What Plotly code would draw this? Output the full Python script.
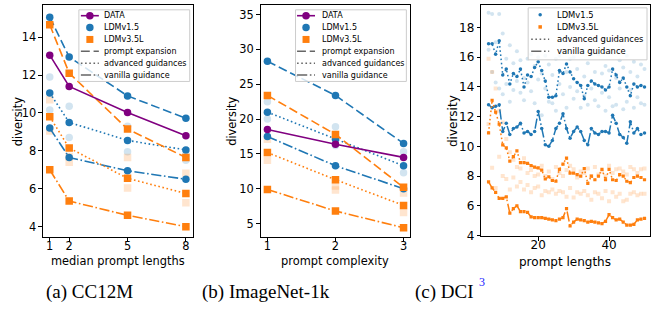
import plotly.graph_objects as go

W, H = 651, 320
BLUE = '#1f77b4'
ORANGE = '#ff7f0e'
PURPLE = '#800080'
GRAY = '#666666'

# ---------------- data: (a) CC12M ----------------
a_x = [1, 2, 5, 8]
a_data = [13.05, 11.4, 10.02, 8.8]
a_v15_pe = [15.05, 12.95, 10.9, 9.72]
a_v15_adv = [11.05, 9.5, 8.55, 8.05]
a_v15_van = [9.2, 7.65, 6.95, 6.5]
a_v35_pe = [14.65, 12.1, 9.15, 7.65]
a_v35_adv = [9.8, 8.15, 6.55, 5.75]
a_v35_van = [7.0, 5.35, 4.6, 4.0]
a_v15_other1 = [11.9, 10.35, 9.3, 7.5]
a_v15_other2 = [10.15, 8.7, 7.95, 7.8]
a_v35_other1 = [10.7, 7.7, 7.65, 6.82]
a_v35_other2 = [9.05, 7.4, 6.04, 5.26]
a_xticks = [1, 2, 5, 8]
a_yticks = [4, 6, 8, 10, 12, 14]

# ---------------- data: (b) ImageNet-1k ----------------
b_x = [1, 2, 3]
b_data = [18.5, 16.4, 14.5]
b_v15_pe = [28.3, 23.4, 16.5]
b_v15_adv = [21.0, 17.1, 13.3]
b_v15_van = [17.5, 13.3, 10.0]
b_v35_pe = [23.4, 17.8, 10.2]
b_v35_adv = [15.2, 11.3, 7.6]
b_v35_van = [9.9, 6.8, 4.4]
b_v15_other1 = [22.5, 18.9, 15.3]
b_v15_other2 = [20.0, 16.2, 12.3]
b_v35_other1 = [17.1, 10.4, 9.4]
b_v35_other2 = [14.1, 9.8, 6.6]
b_xticks = [1, 2, 3]
b_yticks = [5, 10, 15, 20, 25, 30, 35]

# ---------------- data: (c) DCI ----------------
c_x = list(range(6, 51))
c_v15_adv = [16.9, 16.9, 16.2, 17.1, 14.8, 15.2, 14.2, 14.9, 14.7, 15.2,
             14.0, 14.8, 14.7, 15.3, 15.7, 15.1, 14.4, 13.3, 13.3, 13.4,
             15.1, 14.9, 15.55, 15.0, 14.55, 14.3, 14.1, 13.2, 14.1, 14.4,
             14.2, 14.1, 14.0, 13.8, 14.0, 15.2, 14.8, 14.3, 14.6, 14.0,
             13.4, 14.2, 14.0, 14.1, 14.0]
c_v15_van = [12.8, 12.6, 12.7, 12.8, 11.0, 11.55, 10.8, 11.2, 11.3, 11.55,
             10.9, 11.0, 10.8, 11.0, 12.35, 11.2, 10.1, 10.0, 10.4, 11.2,
             11.55, 12.2, 11.2, 10.55, 11.0, 11.3, 11.0, 10.4, 10.1, 11.2,
             10.9, 10.8, 11.0, 11.0, 10.9, 12.1, 11.55, 10.8, 10.6, 10.2,
             11.65, 10.9, 11.2, 10.8, 10.9]
c_v35_adv = [10.9, 13.1, 12.3, 11.5, 10.1, 9.9, 9.0, 9.3, 9.7, 8.9,
             8.9, 8.85, 8.7, 8.6, 8.55, 8.4, 7.8, 7.95, 7.7, 7.65,
             8.45, 8.8, 9.2, 8.2, 8.2, 8.1, 8.0, 8.5, 7.5, 8.0,
             7.75, 8.0, 8.45, 7.75, 8.45, 7.75, 7.7, 8.1, 8.0, 7.65,
             7.55, 7.9, 8.0, 7.9, 7.75]
c_v35_van = [7.6, 7.2, 6.9, 6.5, 6.5, 6.6, 5.5, 5.8, 6.0, 5.6,
             5.6, 5.55, 5.25, 5.2, 5.2, 5.2, 5.15, 5.1, 5.05, 5.0,
             5.1, 5.2, 5.8, 4.65, 4.9, 5.1, 5.05, 5.0, 4.9, 4.95,
             4.9, 4.85, 4.8, 4.95, 5.4, 5.2, 5.05, 5.1, 4.9, 4.7,
             4.7, 4.75, 5.05, 5.1, 5.15]
c_v15_other1 = [19.0, 18.9, 17.0, 18.9, 17.6, 15.9, 16.8, 15.6, 16.4, 15.8,
                14.6, 15.9, 16.2, 15.4, 16.0, 14.9, 16.1, 15.5, 14.8, 15.9,
                16.1, 16.4, 15.0, 15.9, 16.0, 15.2, 16.4, 14.7, 15.6, 16.2,
                15.0, 16.2, 14.9, 15.4, 15.1, 16.3, 14.6, 15.8, 15.3, 16.1,
                15.0, 15.7, 14.7, 15.5, 15.2]
c_v15_other2 = [16.5, 15.0, 14.3, 13.9, 13.5, 14.2, 13.0, 13.8, 14.4, 13.6,
                13.1, 14.3, 13.7, 12.9, 14.5, 12.1, 13.9, 13.0, 12.9, 12.4,
                14.2, 13.5, 12.6, 14.0, 13.2, 13.7, 12.6, 13.4, 12.8, 13.9,
                13.1, 12.7, 13.6, 12.4, 13.3, 12.7, 12.8, 13.9, 12.5, 13.0,
                13.8, 12.6, 13.3, 12.9, 12.8]
c_v35_other1 = [15.9, 15.0, 13.9, 12.4, 11.6, 10.5, 9.6, 9.1, 8.6, 8.5,
                9.2, 8.2, 8.4, 8.0, 8.1, 8.7, 8.0, 8.3, 7.8, 8.6,
                8.2, 8.0, 8.4, 8.7, 8.45, 7.9, 8.3, 8.2, 8.5, 8.0,
                8.6, 8.1, 8.3, 8.0, 8.7, 8.2, 8.45, 8.5, 8.3, 8.1,
                8.6, 8.45, 8.2, 8.45, 8.5]
c_v35_other2 = [11.5, 8.55, 7.2, 9.3, 8.0, 7.8, 7.1, 7.9, 7.3, 7.6,
                7.1, 7.4, 6.9, 7.2, 7.3, 6.7, 7.0, 6.9, 7.1, 6.8,
                7.0, 6.9, 6.6, 7.2, 6.55, 6.9, 6.8, 7.0, 6.7, 6.4,
                6.9, 6.8, 6.5, 7.0, 6.3, 6.9, 6.6, 6.8, 6.3, 6.4,
                6.8, 6.9, 6.7, 6.8, 6.8]
c_xticks = [20, 40]
c_yticks = [4, 6, 8, 10, 12, 14, 16, 18]

# ---------------- text ----------------
legend_ab = ['DATA', 'LDMv1.5', 'LDMv3.5L', 'prompt expansion',
             'advanced guidances', 'vanilla guidance']
legend_c = ['LDMv1.5', 'LDMv3.5L', 'advanced guidances', 'vanilla guidance']
y_title = 'diversity'
x_titles = ['median prompt lengths', 'prompt complexity', 'prompt lengths']
captions = ['(a) CC12M', '(b) ImageNet-1k', '(c) DCI']
footnote = '3'

# ---------------- styling helpers ----------------
LW = 1.6
DASH = {'pe': '8.9px,3.8px', 'adv': '1.6px,2.6px',
        'van': '10.2px,2.6px,1.6px,2.6px', 'solid': 'solid'}
FONT = 'DejaVu Sans'


def px(x):
    return x / W


def py(y):
    return 1 - y / H


fig = go.Figure()


def add_faded(x, y, color, symbol, size, ax):
    fig.add_trace(go.Scatter(
        x=x, y=y, mode='markers', xaxis=ax[0], yaxis=ax[1],
        marker=dict(symbol=symbol, size=size, color=color, opacity=0.2,
                    line=dict(width=0)),
        showlegend=False, hoverinfo='skip'))


def add_line(x, y, color, dash, symbol, size, ax, lw=LW):
    fig.add_trace(go.Scatter(
        x=x, y=y, mode='lines+markers', xaxis=ax[0], yaxis=ax[1],
        line=dict(color=color, width=lw, dash=DASH[dash]),
        marker=dict(symbol=symbol, size=size, color=color, line=dict(width=0)),
        showlegend=False, hoverinfo='skip'))


MS = 7.5
# panel (a)
axa = ('x', 'y')
for s, c, sym in [(a_v15_other1, BLUE, 'circle'), (a_v15_other2, BLUE, 'circle'),
                  (a_v35_other1, ORANGE, 'square'), (a_v35_other2, ORANGE, 'square')]:
    add_faded(a_x, s, c, sym, MS, axa)
add_line(a_x, a_v15_pe, BLUE, 'pe', 'circle', MS, axa)
add_line(a_x, a_v15_adv, BLUE, 'adv', 'circle', MS, axa)
add_line(a_x, a_v15_van, BLUE, 'van', 'circle', MS, axa)
add_line(a_x, a_v35_pe, ORANGE, 'pe', 'square', MS, axa)
add_line(a_x, a_v35_adv, ORANGE, 'adv', 'square', MS, axa)
add_line(a_x, a_v35_van, ORANGE, 'van', 'square', MS, axa)
add_line(a_x, a_data, PURPLE, 'solid', 'circle', MS, axa)

# panel (b)
axb = ('x2', 'y2')
for s, c, sym in [(b_v15_other1, BLUE, 'circle'), (b_v15_other2, BLUE, 'circle'),
                  (b_v35_other1, ORANGE, 'square'), (b_v35_other2, ORANGE, 'square')]:
    add_faded(b_x, s, c, sym, MS, axb)
add_line(b_x, b_v15_pe, BLUE, 'pe', 'circle', MS, axb)
add_line(b_x, b_v15_adv, BLUE, 'adv', 'circle', MS, axb)
add_line(b_x, b_v15_van, BLUE, 'van', 'circle', MS, axb)
add_line(b_x, b_v35_pe, ORANGE, 'pe', 'square', MS, axb)
add_line(b_x, b_v35_adv, ORANGE, 'adv', 'square', MS, axb)
add_line(b_x, b_v35_van, ORANGE, 'van', 'square', MS, axb)
add_line(b_x, b_data, PURPLE, 'solid', 'circle', MS, axb)

# panel (c)
axc = ('x3', 'y3')
for s, c, sym in [(c_v15_other1, BLUE, 'circle'), (c_v15_other2, BLUE, 'circle'),
                  (c_v35_other1, ORANGE, 'square'), (c_v35_other2, ORANGE, 'square')]:
    add_faded(c_x, s, c, sym, 4, axc)
add_line(c_x, c_v15_adv, BLUE, 'adv', 'circle', 3.5, axc, lw=1.5)
add_line(c_x, c_v15_van, BLUE, 'van', 'circle', 3.5, axc, lw=1.5)
add_line(c_x, c_v35_adv, ORANGE, 'adv', 'square', 3.2, axc, lw=1.5)
add_line(c_x, c_v35_van, ORANGE, 'van', 'square', 3.2, axc, lw=1.5)


def axis_style(domain, rng, tickvals, anchor, size, standoff=0):
    d = dict(domain=domain, range=rng, tickvals=tickvals, anchor=anchor,
             showgrid=False, zeroline=False, showline=True, mirror=True,
             linecolor='black', linewidth=1, ticks='outside', ticklen=3.5,
             tickwidth=1, tickcolor='black',
             tickfont=dict(family=FONT, size=size, color='black'))
    if standoff:
        d['ticklabelstandoff'] = standoff
    return d


YD = [py(242), py(5)]
fig.update_layout(
    width=W, height=H, margin=dict(l=0, r=0, t=0, b=0),
    paper_bgcolor='white', plot_bgcolor='white', showlegend=False,
    font=dict(family=FONT, color='black'),
    xaxis=axis_style([px(43), px(193)], [0.65, 8.35], a_xticks, 'y', 11.4, -6),
    yaxis=axis_style(YD, [3.43, 15.7], a_yticks, 'x', 11.4),
    xaxis2=axis_style([px(261), px(411)], [0.9, 3.1], b_xticks, 'y2', 11.4, -6),
    yaxis2=axis_style(YD, [3.0, 36.4], b_yticks, 'x2', 11.4),
    xaxis3=axis_style([px(482), 1.0], [3.94, 51.55], c_xticks, 'y3', 12, -6),
    yaxis3=axis_style([py(241), py(5)], [3.93, 19.52], c_yticks, 'x3', 12),
)

shapes = []
annotations = []


def text(x, y, s, size, xanchor='center', angle=0, family=FONT, color='black'):
    annotations.append(dict(x=px(x), y=py(y), xref='paper', yref='paper', text=s,
                            showarrow=False, xanchor=xanchor, yanchor='middle',
                            textangle=angle, borderpad=0,
                            font=dict(family=family, size=size, color=color)))


def leg_box(x0, y0, x1, y1):
    shapes.append(dict(type='rect', xref='paper', yref='paper', layer='above',
                       x0=px(x0), x1=px(x1), y0=py(y1), y1=py(y0),
                       line=dict(color='#cccccc', width=1),
                       fillcolor='rgba(255,255,255,0.8)'))


def leg_line(x0, x1, y, color, dash, width=LW):
    shapes.append(dict(type='line', xref='paper', yref='paper', layer='above',
                       x0=px(x0), x1=px(x1), y0=py(y), y1=py(y),
                       line=dict(color=color, width=width, dash=DASH[dash])))


def leg_marker(xc, yc, color, kind, size):
    h = size / 2
    shapes.append(dict(type=kind, xref='paper', yref='paper', layer='above',
                       xsizemode='pixel', ysizemode='pixel',
                       xanchor=px(xc), yanchor=py(yc),
                       x0=-h, x1=h, y0=-h, y1=h,
                       fillcolor=color, line=dict(width=0)))


def legend_ab_build(bx0, bx1, lx0, lx1, tx):
    leg_box(bx0, 10, bx1, 83)
    mx = (lx0 + lx1) / 2
    rows = [16 + 12.1 * i for i in range(6)]
    leg_line(lx0, lx1, rows[0], PURPLE, 'solid')
    leg_marker(mx, rows[0], PURPLE, 'circle', MS)
    leg_marker(mx, rows[1], BLUE, 'circle', MS)
    leg_marker(mx, rows[2], ORANGE, 'rect', 7)
    leg_line(lx0, lx1, rows[3], GRAY, 'pe')
    leg_line(lx0, lx1, rows[4], GRAY, 'adv')
    leg_line(lx0, lx1, rows[5], GRAY, 'van')
    for lab, r in zip(legend_ab, rows):
        text(tx, r, lab, 8, xanchor='left')


legend_ab_build(79, 190, 81, 99, 103.5)
legend_ab_build(296, 407, 297.5, 315.5, 321)

leg_box(529, 8, 648, 61)
rows_c = [15 + 12.45 * i for i in range(4)]
leg_marker(541, rows_c[0], BLUE, 'circle', 3.5)
leg_marker(541, rows_c[1], ORANGE, 'rect', 3.5)
leg_line(532, 550, rows_c[2], GRAY, 'adv', 1.5)
leg_line(532, 550, rows_c[3], GRAY, 'van', 1.5)
for lab, r in zip(legend_c, rows_c):
    text(556.5, r, lab, 8.4, xanchor='left')

# axis titles
text(18, 123.5, y_title, 11.4, angle=-90)
text(233, 123.5, y_title, 11.4, angle=-90)
text(453, 123, y_title, 12, angle=-90)
text(118, 266, x_titles[0], 11.4)
text(336, 266, x_titles[1], 11.4)
text(566, 267, x_titles[2], 12)

# captions
text(90, 298, captions[0], 19, family='Liberation Serif')
text(266, 298, captions[1], 19, family='Liberation Serif')
text(445, 298, captions[2], 19, family='Liberation Serif')
text(482.5, 287, footnote, 12, family='Liberation Serif', color='#2020ff')

fig.update_layout(shapes=shapes, annotations=annotations)
fig.write_html('out.html',
               config={'displayModeBar': False, 'staticPlot': True},
               post_script="document.body.style.margin='0px';"
                           "document.body.style.overflow='hidden';")
